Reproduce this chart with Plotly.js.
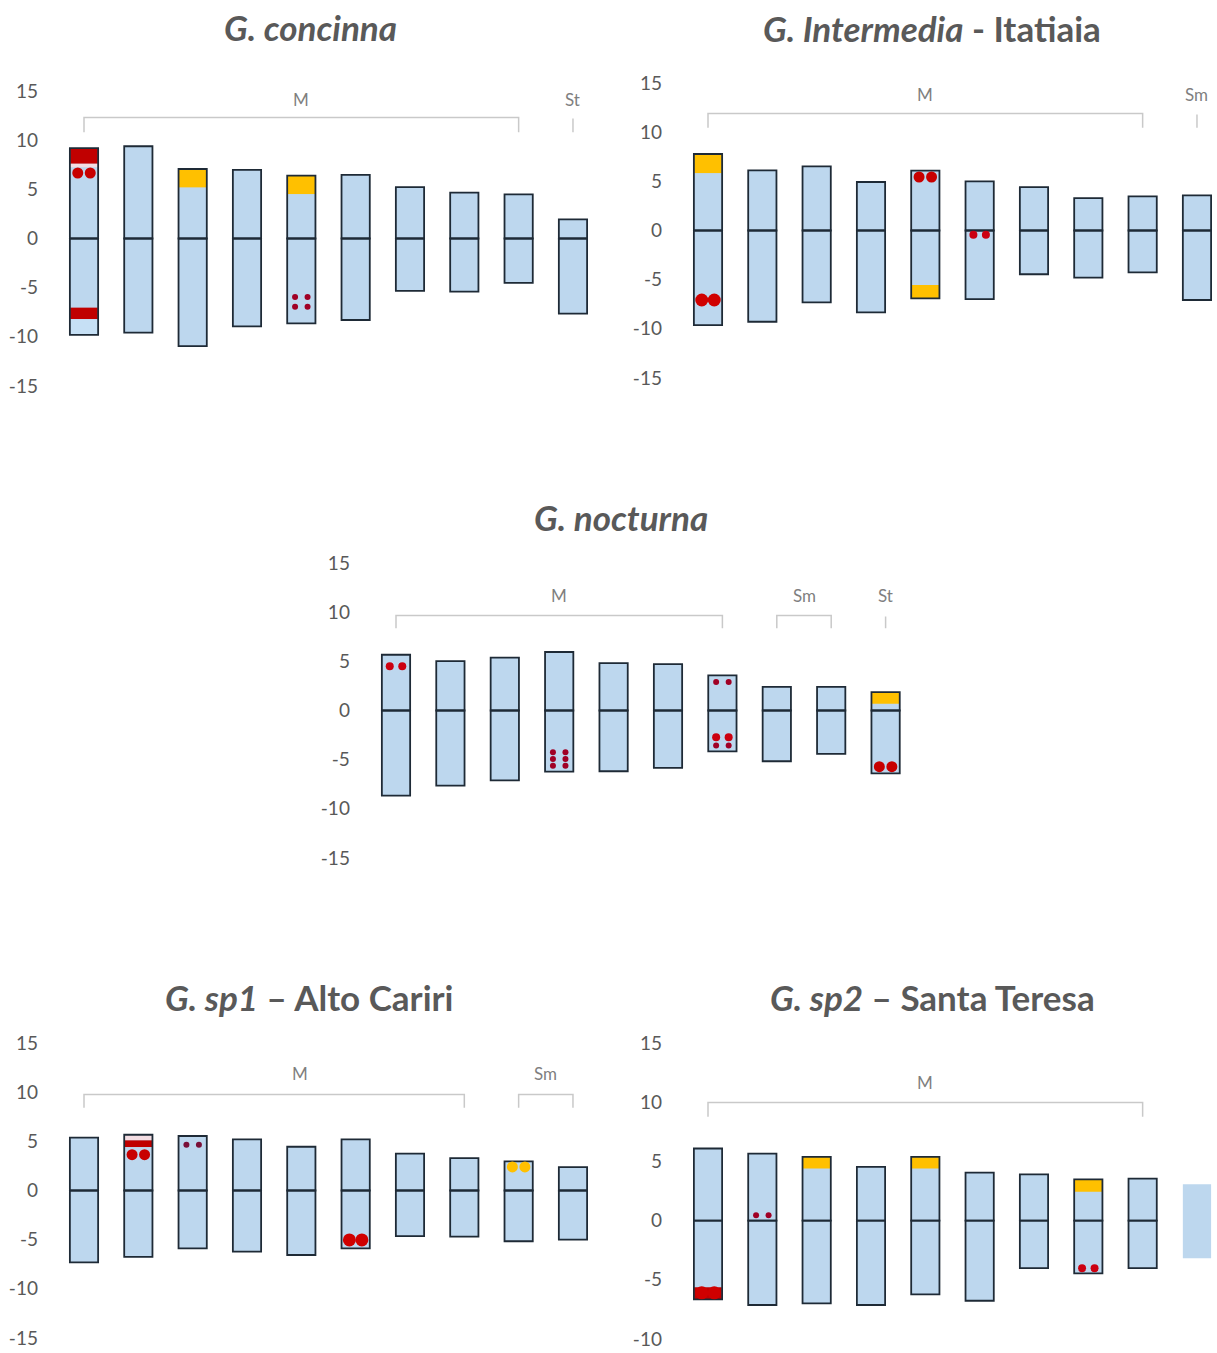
<!DOCTYPE html>
<html><head><meta charset="utf-8">
<script src="https://cdn.plot.ly/plotly-3.0.1.min.js"></script>
<style>html,body{margin:0;padding:0;background:#fff}#chart{width:1217px;height:1353px}</style>
</head><body><div id="chart"></div>
<script>
// ---------- DATA ----------
const chromNum = [1,2,3,4,5,6,7,8,9,10];
const tickVals15 = [-15, -10, -5, 0, 5, 10, 15];
const tickText15 = ['-15', '-10', '-5', '0', '5', '10', '15'];
const tickVals10 = [-10, -5, 0, 5, 10, 15];
const tickText10 = ['-10', '-5', '0', '5', '10', '15'];

// G. concinna
const concTop    = [9.2, 9.38, 7.07, 6.97, 6.39, 6.46, 5.23, 4.66, 4.49, 1.94];
const concBottom = [-9.8, -9.58, -10.94, -8.94, -8.63, -8.29, -5.33, -5.40, -4.52, -7.65];
const concBandChrom  = [1, 1, 1, 1, 3, 5];
const concBandTop    = [9.2, 7.6, -7.03, -8.2, 7.07, 6.39];
const concBandBottom = [7.6, 7.25, -8.2, -9.8, 5.2, 4.52];
const concBandType   = ['red','pale','red','paleblue','yellow','yellow'];
const concDotChrom = [1, 5, 5];
const concDotY     = [6.66, -5.95, -6.93];
const concDotType  = ['large','small','small'];
const concGroupLabel = ['M','St'];
const concGroupStart = [1, 10];
const concGroupEnd   = [9, 10];

// G. Intermedia - Itatiaia
const interTop    = [7.78, 6.12, 6.52, 4.93, 6.08, 5.0, 4.42, 3.30, 3.47, 3.57];
const interBottom = [-9.62, -9.28, -7.31, -8.32, -6.90, -6.97, -4.45, -4.79, -4.25, -7.07];
const interBandChrom  = [1, 5];
const interBandTop    = [7.78, -5.54];
const interBandBottom = [5.84, -6.90];
const interBandType   = ['yellow','yellow'];
const interDotChrom = [1, 5, 6];
const interDotY     = [-7.07, 5.44, -0.44];
const interDotType  = ['xlarge','large','medium'];
const interGroupLabel = ['M','Sm'];
const interGroupStart = [1, 10];
const interGroupEnd   = [9, 10];

// G. nocturna
const noctTop    = [5.67, 5.03, 5.37, 5.95, 4.82, 4.72, 3.57, 2.41, 2.41, 1.87];
const noctBottom = [-8.66, -7.65, -7.10, -6.22, -6.18, -5.84, -4.15, -5.16, -4.42, -6.39];
const noctBandChrom  = [10];
const noctBandTop    = [1.87];
const noctBandBottom = [0.68];
const noctBandType   = ['yellow'];
const noctDotChrom = [1, 4, 4, 4, 7, 7, 7, 10];
const noctDotY     = [4.49, -4.25, -4.93, -5.61, 2.89, -2.72, -3.57, -5.71];
const noctDotType  = ['medium','small','small','small','small','medium','small','large'];
const noctGroupLabel = ['M','Sm','St'];
const noctGroupStart = [1, 8, 10];
const noctGroupEnd   = [7, 9, 10];

// G. sp1 – Alto Cariri
const sp1Top    = [5.37, 5.67, 5.54, 5.2, 4.45, 5.2, 3.74, 3.30, 2.96, 2.38];
const sp1Bottom = [-7.31, -6.76, -5.88, -6.22, -6.56, -5.88, -4.65, -4.69, -5.16, -5.0];
const sp1BandChrom  = [2, 2];
const sp1BandTop    = [5.67, 5.10];
const sp1BandBottom = [5.10, 4.42];
const sp1BandType   = ['pale','red'];
const sp1DotChrom = [2, 3, 6, 9];
const sp1DotY     = [3.64, 4.65, -5.03, 2.4];
const sp1DotType  = ['large','smalldark','xlarge','yellow'];
const sp1GroupLabel = ['M','Sm'];
const sp1GroupStart = [1, 9];
const sp1GroupEnd   = [8, 10];

// G. sp2 – Santa Teresa
const sp2Top    = [6.09, 5.66, 5.38, 4.53, 5.38, 4.05, 3.91, 3.48, 3.54, 3.06];
const sp2Bottom = [-6.65, -7.13, -6.99, -7.13, -6.23, -6.77, -4.02, -4.45, -4.02, -3.17];
const sp2BandChrom  = [1, 3, 5, 8];
const sp2BandTop    = [-5.63, 5.38, 5.38, 3.48];
const sp2BandBottom = [-6.65, 4.39, 4.39, 2.44];
const sp2BandType   = ['red','yellow','yellow','yellow'];
const sp2DotChrom = [1, 2, 8];
const sp2DotY     = [-6.1, 0.45, -4.02];
const sp2DotType  = ['xlarge','small','medium'];
const sp2GroupLabel = ['M'];
const sp2GroupStart = [1];
const sp2GroupEnd   = [9];
const sp2Unoutlined = [10];

// ---------- STYLE ----------
const W = 1217, H = 1353;
const LB = '#bdd7ee', EDGE = '#1e2a36';
const bandColor = {red:'#c00000', yellow:'#ffc000', pale:'#f3dde3', paleblue:'#c6e0f5'};
const dotStyle = {
  xlarge:{size:13,color:'#d00000'}, large:{size:11,color:'#c80000'},
  medium:{size:8,color:'#cc0010'}, small:{size:6,color:'#a00025'},
  smalldark:{size:6,color:'#7a1038'}, yellow:{size:11,color:'#ffc000'}
};
const FONT = 'Lato, "Open Sans", sans-serif';

const panels = [
  {title:'<b><i>G. concinna</i></b>', tx:310, ty:27,
   top:concTop, bottom:concBottom, bc:concBandChrom, bt:concBandTop, bb:concBandBottom, btype:concBandType,
   dc:concDotChrom, dy:concDotY, dt:concDotType, gl:concGroupLabel, gs:concGroupStart, ge:concGroupEnd,
   c1:84, sp:54.33, yTopPx:91, yBotPx:386, yMax:15, yMin:-15, brY:12.3, brLeg:1.5, lblY:14.1, unout:[], lblShift:{},
   tv:tickVals15, tt:tickText15},
  {title:'<b><i>G. Intermedia</i> - Itatiaia</b>', tx:932, ty:28,
   top:interTop, bottom:interBottom, bc:interBandChrom, bt:interBandTop, bb:interBandBottom, btype:interBandType,
   dc:interDotChrom, dy:interDotY, dt:interDotType, gl:interGroupLabel, gs:interGroupStart, ge:interGroupEnd,
   c1:708, sp:54.33, yTopPx:83, yBotPx:378, yMax:15, yMin:-15, brY:11.9, brLeg:1.45, lblY:13.8, unout:[], lblShift:{},
   tv:tickVals15, tt:tickText15},
  {title:'<b><i>G. nocturna</i></b>', tx:621, ty:517,
   top:noctTop, bottom:noctBottom, bc:noctBandChrom, bt:noctBandTop, bb:noctBandBottom, btype:noctBandType,
   dc:noctDotChrom, dy:noctDotY, dt:noctDotType, gl:noctGroupLabel, gs:noctGroupStart, ge:noctGroupEnd,
   c1:396, sp:54.4, yTopPx:563, yBotPx:858, yMax:15, yMin:-15, brY:9.66, brLeg:1.3, lblY:11.7, unout:[], lblShift:{},
   tv:tickVals15, tt:tickText15},
  {title:'<b><i>G. sp1</i> – Alto Cariri</b>', tx:309, ty:997,
   top:sp1Top, bottom:sp1Bottom, bc:sp1BandChrom, bt:sp1BandTop, bb:sp1BandBottom, btype:sp1BandType,
   dc:sp1DotChrom, dy:sp1DotY, dt:sp1DotType, gl:sp1GroupLabel, gs:sp1GroupStart, ge:sp1GroupEnd,
   c1:84, sp:54.33, yTopPx:1043, yBotPx:1338, yMax:15, yMin:-15, brY:9.76, brLeg:1.35, lblY:11.9, unout:[], lblShift:{0:0.48},
   tv:tickVals15, tt:tickText15},
  {title:'<b><i>G. sp2</i> – Santa Teresa</b>', tx:932, ty:997,
   top:sp2Top, bottom:sp2Bottom, bc:sp2BandChrom, bt:sp2BandTop, bb:sp2BandBottom, btype:sp2BandType,
   dc:sp2DotChrom, dy:sp2DotY, dt:sp2DotType, gl:sp2GroupLabel, gs:sp2GroupStart, ge:sp2GroupEnd,
   c1:708, sp:54.33, yTopPx:1043, yBotPx:1339, yMax:15, yMin:-10, brY:9.97, brLeg:1.2, lblY:11.66, unout:sp2Unoutlined, lblShift:{},
   tv:tickVals10, tt:tickText10}
];

const traces = [];
const layout = {
  width:W, height:H, margin:{l:0,r:0,t:0,b:0},
  paper_bgcolor:'#fff', plot_bgcolor:'rgba(0,0,0,0)',
  barmode:'overlay', showlegend:false, hovermode:false,
  annotations:[]
};

const XR = [0.3, 10.35], PAD = 0.2, BW = 0.52, DOTOFF = 0.115;

panels.forEach((p, i) => {
  const n = i === 0 ? '' : String(i + 1);
  const xa = 'x' + n, ya = 'y' + n;
  const L = p.c1 - (1 - XR[0]) * p.sp, R = p.c1 + (XR[1] - 1) * p.sp;
  const ppu = (p.yBotPx - p.yTopPx) / (p.yMax - p.yMin);
  const topPx = p.yTopPx - PAD * ppu, botPx = p.yBotPx + PAD * ppu;
  layout['xaxis' + n] = {domain:[L / W, R / W], range:XR, anchor:ya, visible:false, fixedrange:true};
  layout['yaxis' + n] = {domain:[1 - botPx / H, 1 - topPx / H], range:[p.yMin - PAD, p.yMax + PAD], anchor:xa,
    tickmode:'array', tickvals:p.tv, ticktext:p.tt,
    showgrid:false, zeroline:false, showline:false, ticks:'', ticklabelstandoff:7,
    tickfont:{family:FONT, size:19, color:'#595959'}, fixedrange:true};

  const lw = chromNum.map(c => p.unout.includes(c) ? 0 : 1.8);
  const common = {type:'bar', x:chromNum, width:BW, xaxis:xa, yaxis:ya, hoverinfo:'skip'};
  // whole-chromosome fill
  traces.push(Object.assign({}, common, {base:p.bottom, y:p.top.map((t, k) => t - p.bottom[k]), marker:{color:LB, line:{width:0}}}));
  // bands
  traces.push({type:'bar', x:p.bc, base:p.bb, y:p.bt.map((t, k) => t - p.bb[k]), width:BW - 0.01,
    marker:{color:p.btype.map(t => bandColor[t]), line:{width:0}}, xaxis:xa, yaxis:ya, hoverinfo:'skip'});
  // outlines per arm (their shared edge is the centromere line)
  traces.push(Object.assign({}, common, {base:0, y:p.top, marker:{color:'rgba(0,0,0,0)', line:{width:lw, color:EDGE}}}));
  traces.push(Object.assign({}, common, {base:p.bottom, y:p.bottom.map(v => -v), marker:{color:'rgba(0,0,0,0)', line:{width:lw, color:EDGE}}}));
  // signal dots (sister pairs)
  const dx = [], dyy = [], ds = [], dcol = [];
  p.dc.forEach((c, k) => {
    const st = dotStyle[p.dt[k]];
    [-DOTOFF, DOTOFF].forEach(o => { dx.push(c + o); dyy.push(p.dy[k]); ds.push(st.size); dcol.push(st.color); });
  });
  traces.push({type:'scatter', mode:'markers', x:dx, y:dyy, xaxis:xa, yaxis:ya, hoverinfo:'skip', opacity:1,
    marker:{size:ds, color:dcol, opacity:1, line:{width:0}}});
  // group brackets
  const bx = [], by = [];
  p.gs.forEach((s, k) => {
    const e = p.ge[k];
    if (s === e) { bx.push(s, s, null); by.push(p.brY - p.brLeg, p.brY - 0.1, null); }
    else { bx.push(s, s, e, e, null); by.push(p.brY - p.brLeg, p.brY, p.brY, p.brY - p.brLeg, null); }
    layout.annotations.push({xref:xa, yref:ya, x:(s + e) / 2 + (p.lblShift[k] || 0), y:p.lblY, text:p.gl[k], showarrow:false,
      font:{family:FONT, size:17, color:'#7f7f7f'}});
  });
  traces.push({type:'scatter', mode:'lines', x:bx, y:by, xaxis:xa, yaxis:ya, hoverinfo:'skip',
    line:{color:'#c9c9c9', width:1.5}});
  layout.annotations.push({xref:'paper', yref:'paper', x:p.tx / W, y:1 - p.ty / H, text:p.title, showarrow:false,
    xanchor:'center', yanchor:'middle', font:{family:FONT, size:35, color:'#595959'}});
});

Plotly.newPlot('chart', traces, layout, {displayModeBar:false, staticPlot:true});
</script>
</body></html>
